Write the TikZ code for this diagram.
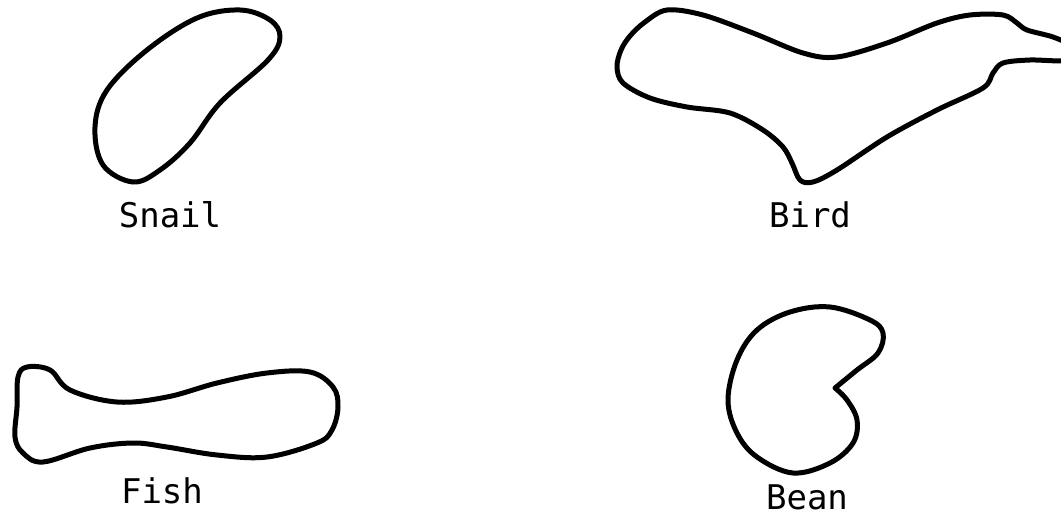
\documentclass[tikz,border=0pt]{standalone}
\usepackage{fontspec}
\setmonofont{DejaVu Sans Mono}
\tikzset{outline/.style={color=black, line width=5pt, line join=round, line cap=round}}
\begin{document}
\begin{tikzpicture}[x=1pt, y=-1pt, every node/.style={font=\ttfamily\fontsize{34}{40}\selectfont, anchor=base, inner sep=0pt}]
\useasboundingbox (0,0) rectangle (1061,519);
% Snail
\draw [outline] plot [smooth cycle, tension=0.6] coordinates {(240,10) (270,20) (280,37) (268,60) (220,103) (190,143) (160,170) (133,182) (103,165) (95,127) (107,90) (147,50) (197,18)};
% Bird
\draw [outline] plot [smooth cycle, tension=0.55] coordinates {(617,67) (621,50) (630,36) (645,22) (667,10) (703,15) (753,33) (803,53) (837,57) (887,43) (937,23) (970,15) (1003,15) (1017,23) (1027,30) (1053,37) (1068,45) (1068,60) (1030,60) (1003,63) (993,73) (983,88) (937,110) (887,137) (837,170) (813,182) (800,180) (792,163) (783,147) (763,130) (730,113) (687,107) (650,98) (623,83)};
% Fish
\draw [outline] plot [smooth cycle, tension=0.6] coordinates {(27,367) (50,370) (70,390) (117,402) (167,397) (217,383) (267,373) (310,372) (333,387) (338,407) (332,430) (317,443) (267,457) (217,455) (167,447) (133,443) (90,448) (43,462) (23,453) (15,437) (17,407) (18,377)};
% Bean
\draw [outline] plot [smooth, tension=0.6] coordinates {(835,388) (847,400) (857,420) (853,443) (830,463) (793,473) (757,457) (737,433) (728,400) (737,360) (757,330) (790,312) (830,307) (870,320) (883,333) (878,353) (857,370) (835,388)};
\node (snail) [at = {(170,227)}] {Snail};
\node (bird) [at = {(810,227)}] {Bird};
\node (fish) [at = {(162,503)}] {Fish};
\node (bean) [at = {(807,509)}] {Bean};
\end{tikzpicture}
\end{document}
